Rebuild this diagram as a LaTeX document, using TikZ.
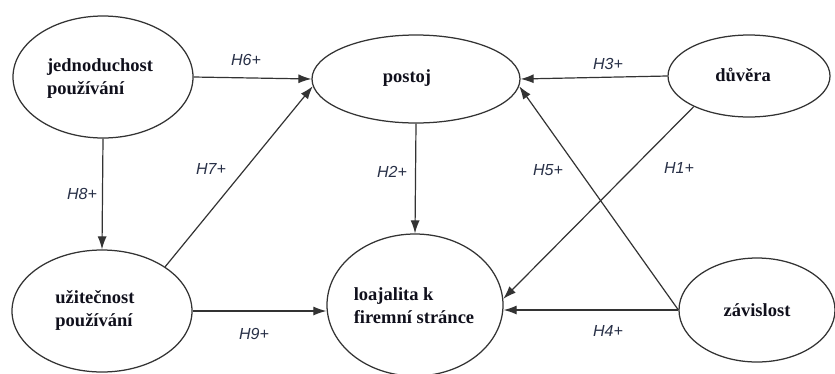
\documentclass[tikz,border=0pt]{standalone}
\usepackage{fontspec}
\setmainfont{Liberation Serif}
\newfontfamily\labelfont{Liberation Sans}
\usetikzlibrary{shapes.geometric,arrows.meta}
\definecolor{linegray}{HTML}{333333}
\definecolor{nametext}{HTML}{10101C}
\definecolor{hyptext}{HTML}{283047}
\begin{document}
\begin{tikzpicture}[x=1pt,y=-1pt,
  construct/.style={draw=linegray, line width=1.25pt, ellipse, inner sep=0pt},
  cname/.style={text=nametext, font=\fontsize{18.5}{23}\selectfont\bfseries, align=left, inner sep=0pt},
  hyp/.style={text=hyptext, font=\labelfont\fontsize{16}{18}\selectfont\itshape, inner sep=0pt},
  link/.style={draw=linegray, line width=1.2pt, -{Latex[length=13pt,width=9pt]}}]
\useasboundingbox (0,0) rectangle (835,373);
\fill[white] (0,0) rectangle (835,373);

% constructs
\node[construct, minimum width=180pt, minimum height=122pt] (jp) at (103,77) {};
\node[construct, minimum width=208pt, minimum height=88pt]  (p)  at (416,79) {};
\node[construct, minimum width=162pt, minimum height=82pt]  (d)  at (749,76) {};
\node[construct, minimum width=180pt, minimum height=122pt] (u)  at (102,311) {};
\node[construct, minimum width=176pt, minimum height=142pt] (l)  at (415,305) {};
\node[construct, minimum width=156pt, minimum height=104pt] (z)  at (757,310) {};

% construct names
\node[cname] (jpt) at (100,79)  {jednoduchost\\používání};
\node[cname] (pt)  at (407,78)  {postoj};
\node[cname] (dt)  at (743,75)  {důvěra};
\node[cname] (ut)  at (95,310)  {užitečnost\\používání};
\node[cname] (lt)  at (414,306) {loajalita k\\firemní stránce};
\node[cname] (zt)  at (757,310) {závislost};

% hypothesised paths
\draw[link] (jp.east) -- (p.west);
\draw[link] (u.35) -- (p.184);
\draw[link] (p.south) -- (l.north);
\draw[link] (d.west) -- (p.east);
\draw[link] (z.west) -- (p.-4);
\draw[link] (d.209) -- (l.4);
\draw[link] (z.west) -- (l.east |- z.west);
\draw[link] (jp.south) -- (u.north);
\draw[link] (u.east) -- (l.west |- u.east);

% path labels
\node[hyp] (h6) at (246,60)  {H6+};
\node[hyp] (h7) at (211,169) {H7+};
\node[hyp] (h2) at (392,172) {H2+};
\node[hyp] (h3) at (608,64)  {H3+};
\node[hyp] (h5) at (548,170) {H5+};
\node[hyp] (h1) at (679,168) {H1+};
\node[hyp] (h8) at (82,194)  {H8+};
\node[hyp] (h9) at (254,334) {H9+};
\node[hyp] (h4) at (608,331) {H4+};
\end{tikzpicture}
\end{document}
